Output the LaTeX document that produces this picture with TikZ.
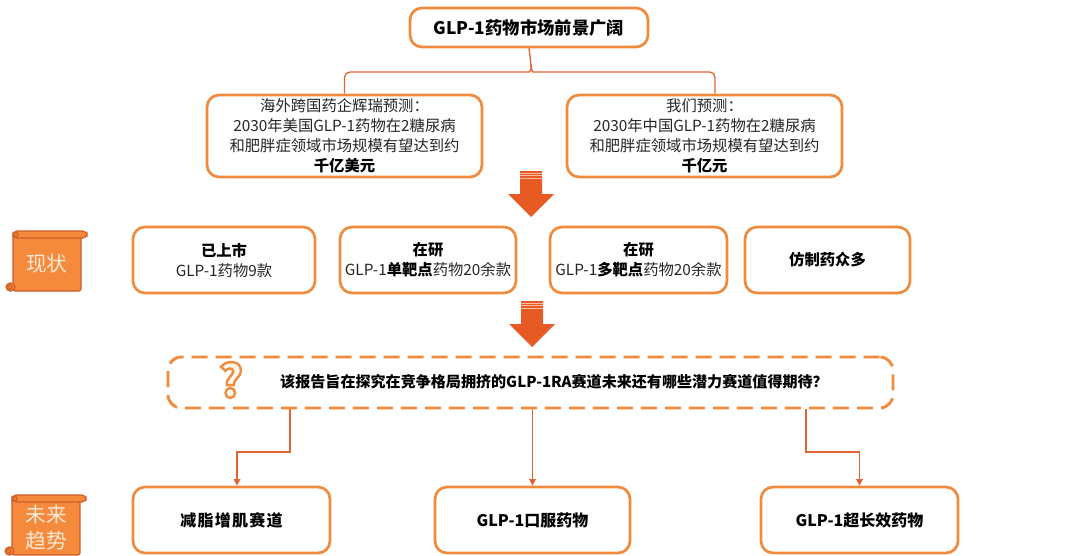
\documentclass[tikz,border=0pt]{standalone}
\usepackage{fontspec}
\setmainfont{Noto Sans CJK SC}
\usetikzlibrary{arrows.meta}
\definecolor{boxorange}{RGB}{240,139,62}
\definecolor{linkred}{RGB}{226,100,50}
\definecolor{arrowred}{RGB}{232,90,36}
\definecolor{scrollfill}{RGB}{245,137,60}
\definecolor{scrolldraw}{RGB}{205,95,38}
\definecolor{scrolltext}{RGB}{252,234,214}
\tikzset{
  box/.style={draw=boxorange, line width=2pt, rounded corners=9pt, fill=white,
    inner sep=0pt, align=center, text=black!85, font=\fontsize{11.5}{15}\selectfont},
  dashbox/.style={draw=boxorange, line width=2.2pt, rounded corners=10pt,
    dash pattern=on 12pt off 6pt, inner sep=0pt},
  link/.style={draw=linkred, line width=1pt},
  tip/.style={-{Triangle[length=5pt,width=5pt]}},
}
\def\bigarrow#1#2{
  % 1: x of axis
  % 2: y of shaft top
  \begin{scope}[shift={(#1,#2)}]
    \fill[arrowred] (-11,0) -- (11,0) -- (11,23) -- (23,23) -- (0,46) -- (-23,23) -- (-11,23) -- cycle;
    \foreach \s in {2,4.5,7} \draw[white!60!arrowred, line width=0.5pt] (-11,\s) -- (11,\s);
  \end{scope}
}
\def\scroll#1#2#3#4#5{
  % 1: name
  % 2: x left
  % 3: y top
  % 4: height
  % 5: text
  \begin{scope}[shift={(#2,#3)}, draw=scrolldraw, line width=0.8pt]
    \filldraw[fill=scrollfill, rounded corners=1.5pt] (7,3) rectangle (75,#4);
    \filldraw[fill=scrollfill, rounded corners=3pt] (7,0) rectangle (81,7);
    \filldraw[fill=scrollfill!80!scrolldraw] (10,3.5) circle (2.2);
    \filldraw[fill=scrollfill, rounded corners=3pt] (0,#4-8) rectangle (9,#4);
    \filldraw[fill=scrollfill!80!scrolldraw] (4,#4-4) circle (2.2);
    \node[text=scrolltext, align=center, font=\fontsize{15.5}{20}\selectfont] (#1) at (41,{(#4+3)/2+1}) {#5};
  \end{scope}
}

\begin{document}
\begin{tikzpicture}[x=0.75pt, y=-0.75pt]
  \useasboundingbox (0,0) rectangle (1080,556);

  % top: market outlook
  \node[box, font=\fontsize{13}{16}\selectfont\bfseries, text=black, minimum width=178.5pt, minimum height=29.25pt] (title) at (529,27.5) {GLP-1药物市场前景广阔};
  \node[box, minimum width=206.25pt, minimum height=61.5pt] (pfizer) at (344.5,136) {海外跨国药企辉瑞预测：\\2030年美国GLP-1药物在2糖尿病\\和肥胖症领域市场规模有望达到约\\\textbf{\color{black}千亿美元}};
  \node[box, minimum width=206.25pt, minimum height=61.5pt] (ours) at (704.5,136) {我们预测：\\2030年中国GLP-1药物在2糖尿病\\和肥胖症领域市场规模有望达到约\\\textbf{\color{black}千亿元}};
  \draw[link, rounded corners=4] (title.south) -- (531,64) .. controls (531,69) and (529,72) .. (524,72) -| (pfizer.north);
  \draw[link, rounded corners=4] (531,64) .. controls (531,69) and (533,72) .. (538,72) -| (ours.north -| 715,0);

  \bigarrow{531}{171}

  % status
  \scroll{scrollNow}{6}{231}{60}{现状}
  \node[box, minimum width=136.5pt, minimum height=49.5pt] (listed) at (224,260) {\textbf{\color{black}已上市}\\GLP-1药物9款};
  \node[box, minimum width=132pt, minimum height=49.5pt] (single) at (428,260) {\textbf{\color{black}在研}\\GLP-1\textbf{\color{black}单靶点}药物20余款};
  \node[box, minimum width=132.75pt, minimum height=49.5pt] (multi) at (638.5,260) {\textbf{\color{black}在研}\\GLP-1\textbf{\color{black}多靶点}药物20余款};
  \node[box, font=\fontsize{11.5}{15}\selectfont\bfseries, text=black, minimum width=123.75pt, minimum height=49.5pt] (generic) at (827.5,260) {仿制药众多};

  \bigarrow{532}{301}

  % question
  \node[dashbox, minimum width=543.75pt, minimum height=38.25pt] (question) at (530.5,382.5) {};
  \node[text=boxorange, font=\fontsize{34}{34}\selectfont\bfseries] (qmark) at (231,380) {\special{pdf:literal direct 1 0.97 0.93 rg 0.94 0.55 0.24 RG 2 Tr 1.8 w}?\special{pdf:literal direct 0 Tr}};
  \node[font=\fontsize{11.3}{15}\selectfont\bfseries] (qtext) at (554,382) {该报告旨在探究在竞争格局拥挤的GLP-1RA赛道未来还有哪些潜力赛道值得期待？};

  % future trends
  \scroll{scrollFuture}{5}{495}{60}{未来\\趋势}
  \node[box, font=\fontsize{12}{15}\selectfont\bfseries\addfontfeatures{LetterSpace=8}, text=black, minimum width=147.75pt, minimum height=49.5pt] (lane1) at (231.5,520) {减脂增肌赛道};
  \node[box, font=\fontsize{12}{15}\selectfont\bfseries, text=black, minimum width=146.25pt, minimum height=49.5pt] (lane2) at (532.5,520) {GLP-1口服药物};
  \node[box, font=\fontsize{12}{15}\selectfont\bfseries, text=black, minimum width=147.75pt, minimum height=49.5pt] (lane3) at (859.5,520) {GLP-1超长效药物};
  \draw[link, tip] (question.south -| 290,0) -- (290,452) -| (lane1.north -| 237,0);
  \draw[link, tip] (question.south -| lane2.north) -- (lane2.north);
  \draw[link, tip] (question.south -| 806,0) -- (806,452) -| (lane3.north);
\end{tikzpicture}
\end{document}
